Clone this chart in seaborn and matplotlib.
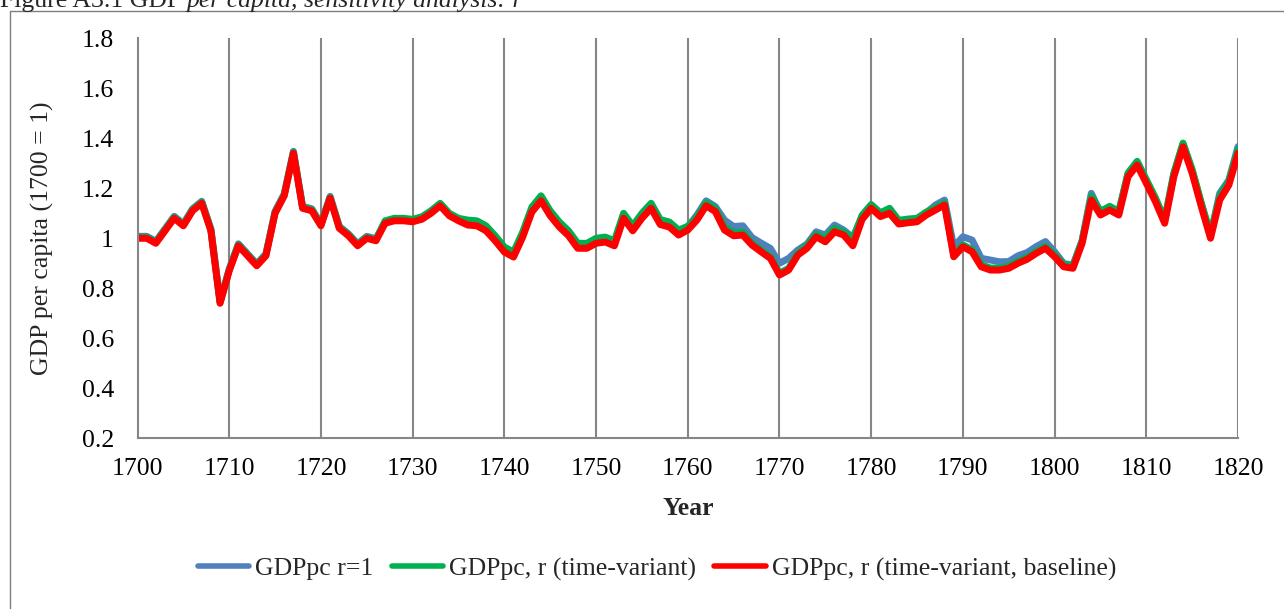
import numpy as np
import pandas as pd
import matplotlib
matplotlib.use("Agg")
import matplotlib.pyplot as plt
from matplotlib.lines import Line2D
from matplotlib.ticker import FuncFormatter
import seaborn as sns

# years on the x axis, one value per year
years = np.arange(1700, 1821)

# GDPpc, r (time-variant, baseline) - red
gdp_baseline = [
    1.00, 1.00, 0.98, 1.03, 1.08, 1.05, 1.11, 1.14, 1.03, 0.74,
    0.87, 0.97, 0.93, 0.89, 0.93, 1.10, 1.17, 1.34, 1.12, 1.11,
    1.05, 1.16, 1.04, 1.01, 0.97, 1.00, 0.99, 1.06, 1.07, 1.07,
    1.066, 1.076, 1.10, 1.13, 1.09, 1.07, 1.053, 1.05, 1.03, 0.99,
    0.945, 0.925, 1.005, 1.105, 1.15, 1.09, 1.045, 1.01, 0.96, 0.96,
    0.98, 0.985, 0.97, 1.08, 1.03, 1.08, 1.12, 1.055, 1.045, 1.013,
    1.033, 1.073, 1.13, 1.107, 1.033, 1.01, 1.013, 0.973, 0.946, 0.92,
    0.853, 0.873, 0.933, 0.96, 1.006, 0.986, 1.026, 1.013, 0.97, 1.075,
    1.12, 1.087, 1.10, 1.057, 1.062, 1.066, 1.093, 1.113, 1.133, 0.926,
    0.966, 0.946, 0.886, 0.873, 0.873, 0.88, 0.90, 0.916, 0.94, 0.96,
    0.926, 0.886, 0.88, 0.98, 1.153, 1.093, 1.113, 1.093, 1.246, 1.293,
    1.22, 1.146, 1.06, 1.246, 1.366, 1.26, 1.126, 1.00, 1.153, 1.213,
    1.34,
]

# GDPpc, r (time-variant) - green
gdp_timevar = [
    1.004, 1.004, 0.984, 1.034, 1.084, 1.054, 1.114, 1.144, 1.034, 0.744,
    0.874, 0.974, 0.934, 0.894, 0.934, 1.104, 1.174, 1.344, 1.124, 1.114,
    1.054, 1.164, 1.044, 1.014, 0.974, 1.004, 0.994, 1.07, 1.08, 1.08,
    1.076, 1.086, 1.11, 1.14, 1.10, 1.08, 1.073, 1.07, 1.05, 1.01,
    0.965, 0.945, 1.025, 1.125, 1.17, 1.11, 1.065, 1.03, 0.98, 0.98,
    1.00, 1.005, 0.99, 1.10, 1.05, 1.10, 1.14, 1.075, 1.065, 1.033,
    1.048, 1.085, 1.142, 1.119, 1.045, 1.022, 1.025, 0.98, 0.953, 0.927,
    0.86, 0.88, 0.94, 0.97, 1.016, 0.999, 1.04, 1.025, 0.997, 1.092,
    1.135, 1.102, 1.12, 1.072, 1.077, 1.08, 1.105, 1.122, 1.141, 0.934,
    0.974, 0.954, 0.894, 0.881, 0.881, 0.888, 0.908, 0.924, 0.948, 0.968,
    0.934, 0.894, 0.888, 0.99, 1.168, 1.108, 1.128, 1.108, 1.261, 1.308,
    1.235, 1.161, 1.075, 1.261, 1.381, 1.275, 1.141, 1.015, 1.168, 1.228,
    1.355,
]

# GDPpc r=1 - blue
gdp_r1 = [
    1.008, 1.008, 0.988, 1.038, 1.088, 1.058, 1.118, 1.148, 1.038, 0.748,
    0.878, 0.978, 0.938, 0.898, 0.938, 1.108, 1.178, 1.348, 1.128, 1.118,
    1.058, 1.168, 1.048, 1.018, 0.978, 1.008, 0.998, 1.065, 1.075, 1.075,
    1.071, 1.081, 1.105, 1.135, 1.095, 1.075, 1.063, 1.06, 1.04, 1.00,
    0.955, 0.935, 1.015, 1.115, 1.16, 1.10, 1.055, 1.02, 0.97, 0.97,
    0.99, 0.995, 0.98, 1.09, 1.04, 1.09, 1.13, 1.065, 1.055, 1.023,
    1.045, 1.093, 1.15, 1.127, 1.073, 1.047, 1.05, 1.003, 0.981, 0.96,
    0.90, 0.92, 0.953, 0.977, 1.026, 1.013, 1.053, 1.033, 1.003, 1.085,
    1.128, 1.095, 1.108, 1.065, 1.07, 1.074, 1.101, 1.133, 1.153, 0.966,
    1.006, 0.993, 0.92, 0.913, 0.906, 0.907, 0.93, 0.943, 0.967, 0.987,
    0.946, 0.899, 0.893, 0.99, 1.18, 1.103, 1.123, 1.103, 1.256, 1.298,
    1.23, 1.156, 1.07, 1.256, 1.376, 1.27, 1.136, 1.01, 1.18, 1.233,
    1.367,
]

labels = ["GDPpc r=1", "GDPpc, r (time-variant)", "GDPpc, r (time-variant, baseline)"]
colors = ["#4F81BD", "#00B050", "#FF0000"]

df = pd.DataFrame({
    "Year": np.tile(years, 3),
    "GDP": gdp_r1 + gdp_timevar + gdp_baseline,
    "Series": np.repeat(labels, len(years)),
})

sns.set_theme(style="white")
plt.rcParams['font.family'] = ['Liberation Serif', 'DejaVu Serif']
FS = 18.5
GRAY = "#868686"

fig = plt.figure(figsize=(12.84, 6.09), dpi=100)
ax = fig.add_axes([0.1071, 0.2803, 0.8571, 0.6568])

sns.lineplot(data=df, x="Year", y="GDP", hue="Series", hue_order=labels,
             palette=colors, linewidth=5.0, ax=ax, legend=False,
             solid_joinstyle="round", solid_capstyle="round")

ax.set_xlim(1700, 1820)
ax.set_ylim(0.2, 1.8)
ax.set_xticks(np.arange(1700, 1821, 10))
ax.set_yticks(np.arange(0.2, 1.81, 0.2))
ax.yaxis.set_major_formatter(FuncFormatter(lambda v, p: f"{v:g}"))

ax.grid(False)
for yr in np.arange(1710, 1821, 10):
    ax.axvline(yr, color=GRAY, lw=1.5, zorder=0)

for s in ["top", "right"]:
    ax.spines[s].set_visible(False)
for s in ["left", "bottom"]:
    ax.spines[s].set_color(GRAY)
    ax.spines[s].set_linewidth(1.5)

ax.tick_params(axis="both", direction="out", length=5, width=1.1, color=GRAY,
               labelsize=FS, labelcolor="black", pad=9)
ax.tick_params(axis="y", pad=12)

ax.set_ylabel("GDP per capita (1700 = 1)", fontsize=FS)
ax.yaxis.set_label_coords(-0.0868, 0.5)
ax.yaxis.label.set_va("center")
ax.set_xlabel("Year", fontsize=FS, fontweight="bold")
ax.xaxis.set_label_coords(0.5, -0.175)
ax.xaxis.label.set_va("center")

handles = [Line2D([0], [0], color=c, lw=4.0, solid_capstyle="round") for c in colors]
fig.legend(handles, labels, loc="center", bbox_to_anchor=(0.5117, 0.0657),
           ncol=3, frameon=False, fontsize=FS, handlelength=2.0,
           handletextpad=0.25, columnspacing=0.7)

# outer frame, only left and top edges fall inside the picture
fx = 10 / 1284
fy = 1 - 11 / 609
fig.add_artist(Line2D([fx, fx], [0, fy], color="#7f7f7f", lw=1.0, transform=fig.transFigure))
fig.add_artist(Line2D([fx, 1], [fy, fy], color="#7f7f7f", lw=1.0, transform=fig.transFigure))

# caption cut off at the top edge
ty = 1 - 7.3 / 609
t1 = fig.text(0.0, ty, "Figure A3.1 GDP ", fontsize=FS, va="baseline", ha="left")
fig.canvas.draw()
bb = t1.get_window_extent()
fig.text(bb.x1 / fig.bbox.width, ty, "per capita, sensitivity analysis: r",
         fontsize=FS, style="italic", va="baseline", ha="left")

fig.savefig("out.png", dpi=100)
